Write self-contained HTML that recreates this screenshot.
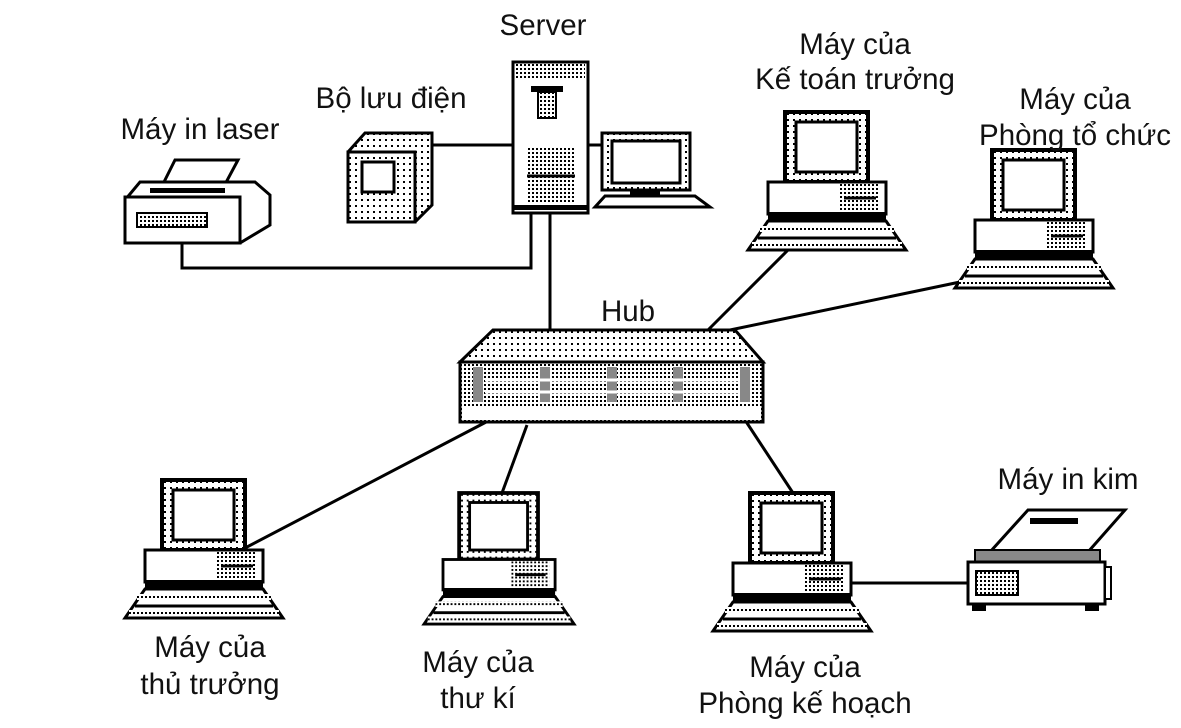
<!DOCTYPE html>
<html><head><meta charset="utf-8"><style>
html,body{margin:0;padding:0;background:#fff;}
svg{display:block}
text{font-family:"Liberation Sans",sans-serif;font-size:29.5px;fill:#111;}
</style></head><body>
<svg width="1181" height="728" viewBox="0 0 1181 728" xmlns="http://www.w3.org/2000/svg">
<defs>
<pattern id="dots" width="6" height="6" patternUnits="userSpaceOnUse"><rect width="6" height="6" fill="#fff"/><rect x="1" y="1" width="2" height="2" fill="#000"/></pattern>
<pattern id="dense" width="4" height="4" patternUnits="userSpaceOnUse"><rect width="4" height="4" fill="#fff"/><rect x="0" y="0" width="2" height="2" fill="#000"/></pattern>
<g id="pc">
<rect x="17" y="0" width="83" height="70" fill="url(#dots)" stroke="#000" stroke-width="4"/>
<rect x="28" y="10" width="61" height="50" fill="#fff" stroke="#000" stroke-width="3"/>
<rect x="0" y="70" width="118" height="32" fill="#fff" stroke="#000" stroke-width="3"/>
<rect x="72" y="72" width="40" height="28" fill="url(#dense)"/>
<line x1="76" y1="86" x2="108" y2="86" stroke="#000" stroke-width="3"/>
<rect x="0" y="100" width="118" height="9" fill="#000"/>
<polygon points="0,109 118,109 138,138 -20,138" fill="#fff" stroke="#000" stroke-width="3"/>
<rect x="-8" y="114" width="134" height="6" fill="url(#dense)"/>
<line x1="-10" y1="126" x2="128" y2="126" stroke="#000" stroke-width="3"/>
<rect x="-16" y="130" width="150" height="5" fill="url(#dense)"/>
</g>
</defs>
<g stroke="#000" stroke-width="3" fill="none">
<polyline points="182,240 182,268 531,268 531,212"/>
<line x1="432" y1="145" x2="512" y2="145"/>
<line x1="588" y1="145" x2="615" y2="145"/>
<line x1="550" y1="212" x2="550" y2="333"/>
<line x1="708" y1="330" x2="790" y2="248"/>
<line x1="730" y1="330" x2="960" y2="282"/>
<line x1="490" y1="420" x2="245" y2="548"/>
<line x1="527" y1="425" x2="502" y2="493"/>
<line x1="745" y1="420" x2="793" y2="493"/>
<line x1="845" y1="583" x2="970" y2="583"/>
</g>
<polygon points="160,190 175,160 238,160 222,190" fill="#fff" stroke="#000" stroke-width="3"/>
<polygon points="125,200 140,182 255,182 270,195 270,225 240,243 125,243" fill="#fff" stroke="#000" stroke-width="3"/>
<rect x="125" y="197" width="115" height="46" fill="#fff" stroke="#000" stroke-width="3"/>
<rect x="150" y="188" width="75" height="5" fill="#000"/>
<rect x="137" y="213" width="70" height="14" fill="url(#dense)" stroke="#000" stroke-width="2"/>
<polygon points="348,152 365,133 432,133 432,205 415,222 348,222" fill="url(#dots)" stroke="#000" stroke-width="3"/>
<rect x="348" y="152" width="67" height="70" fill="url(#dots)" stroke="#000" stroke-width="3"/>
<rect x="362" y="162" width="32" height="30" fill="#fff" stroke="#000" stroke-width="3"/>
<rect x="513" y="62" width="75" height="151" fill="#fff" stroke="#000" stroke-width="3"/>
<rect x="516" y="64" width="69" height="14" fill="url(#dense)"/>
<rect x="531" y="86" width="32" height="6" fill="#000"/>
<rect x="538" y="92" width="18" height="26" fill="url(#dense)" stroke="#000" stroke-width="2"/>
<rect x="527" y="147" width="48" height="55" fill="url(#dense)"/>
<line x1="527" y1="176" x2="575" y2="176" stroke="#000" stroke-width="3"/>
<rect x="513" y="205" width="75" height="5" fill="#000"/>
<rect x="602" y="133" width="88" height="57" fill="url(#dots)" stroke="#000" stroke-width="3"/>
<rect x="612" y="141" width="68" height="42" fill="#fff" stroke="#000" stroke-width="3"/>
<rect x="630" y="190" width="30" height="6" fill="#000"/>
<polygon points="605,196 695,196 710,207 595,207" fill="#fff" stroke="#000" stroke-width="3"/>
<polygon points="460,362 493,330 735,330 763,362" fill="url(#dots)" stroke="#000" stroke-width="3"/>
<rect x="460" y="362" width="303" height="60" fill="url(#dense)" stroke="#000" stroke-width="3"/>
<g fill="#888"><rect x="473" y="367" width="10" height="35"/><rect x="540" y="367" width="10" height="35"/><rect x="607" y="367" width="10" height="35"/><rect x="673" y="367" width="10" height="35"/><rect x="740" y="367" width="10" height="35"/></g>
<g stroke="#fff" stroke-width="3"><line x1="485" y1="380" x2="740" y2="380"/><line x1="485" y1="392" x2="740" y2="392"/></g>
<rect x="462" y="408" width="299" height="12" fill="#fff"/>
<use href="#pc" transform="translate(145,480)"/>
<use href="#pc" transform="translate(443,493) scale(0.95)"/>
<use href="#pc" transform="translate(733,493)"/>
<use href="#pc" transform="translate(768,112)"/>
<use href="#pc" transform="translate(975,150)"/>
<polygon points="990,552 1028,510 1125,510 1088,552" fill="#fff" stroke="#000" stroke-width="3"/>
<rect x="1030" y="518" width="48" height="6" fill="#000"/>
<rect x="975" y="550" width="125" height="12" fill="#888" stroke="#000" stroke-width="2"/>
<rect x="968" y="562" width="137" height="42" fill="#fff" stroke="#000" stroke-width="3"/>
<rect x="1105" y="567" width="6" height="32" fill="#fff" stroke="#000" stroke-width="2"/>
<rect x="976" y="571" width="42" height="24" fill="url(#dense)" stroke="#000" stroke-width="2"/>
<rect x="972" y="604" width="14" height="7" fill="#000"/><rect x="1085" y="604" width="14" height="7" fill="#000"/>
<text x="543" y="35" text-anchor="middle">Server</text>
<text x="855" y="54" text-anchor="middle">Máy của</text>
<text x="855" y="89" text-anchor="middle">Kế toán trưởng</text>
<text x="1075" y="109" text-anchor="middle">Máy của</text>
<text x="1075" y="145" text-anchor="middle">Phòng tổ chức</text>
<text x="200" y="139" text-anchor="middle">Máy in laser</text>
<text x="391" y="108" text-anchor="middle">Bộ lưu điện</text>
<text x="628" y="321" text-anchor="middle">Hub</text>
<text x="1068" y="489" text-anchor="middle">Máy in kim</text>
<text x="210" y="657" text-anchor="middle">Máy của</text>
<text x="210" y="694" text-anchor="middle">thủ trưởng</text>
<text x="478" y="672" text-anchor="middle">Máy của</text>
<text x="478" y="708" text-anchor="middle">thư kí</text>
<text x="805" y="677" text-anchor="middle">Máy của</text>
<text x="805" y="713" text-anchor="middle">Phòng kế hoạch</text>
</svg>
</body></html>
